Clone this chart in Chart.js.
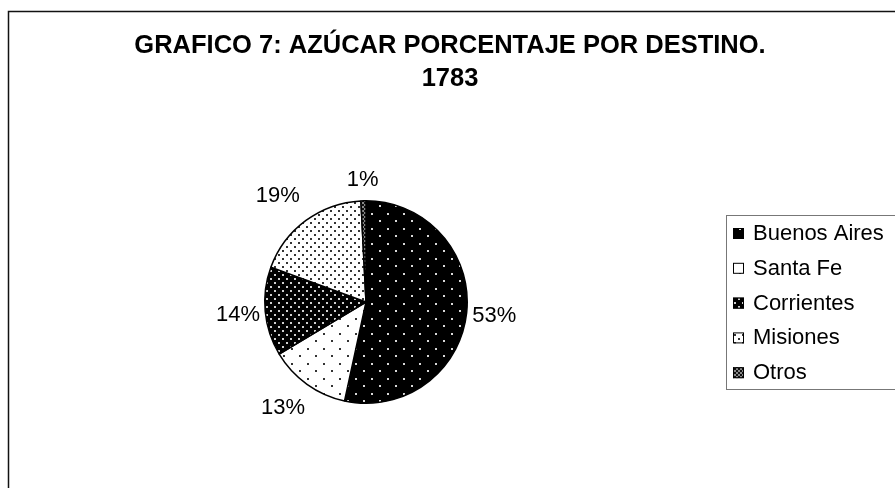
<!DOCTYPE html>
<html>
<head>
<meta charset="utf-8">
<script src="https://cdn.jsdelivr.net/npm/chart.js@4/dist/chart.umd.min.js"></script>
<style>
  html, body { margin: 0; padding: 0; background: #fff; }
  #wrap { width: 895px; height: 488px; }
</style>
</head>
<body>
<div id="wrap"><canvas id="pie" width="895" height="488"></canvas></div>
<script>
var titleLines = ['GRAFICO 7: AZÚCAR PORCENTAJE POR DESTINO.', '1783'];
var categories = ['Buenos Aires', 'Santa Fe', 'Corrientes', 'Misiones', 'Otros'];
var shares = [53.4, 13.0, 14.2, 18.6, 0.8];

// small tile patterns like the old excel fills
function makePattern(w, h, bg, fg, dots, size) {
	var c = document.createElement('canvas');
	c.width = w; c.height = h;
	var g = c.getContext('2d');
	g.fillStyle = bg;
	g.fillRect(0, 0, w, h);
	g.fillStyle = fg;
	dots.forEach(function(d){ g.fillRect(d[0], d[1], size, size); });
	return document.createElement('canvas').getContext('2d').createPattern(c, 'repeat');
}

var fills = [
	makePattern(16, 15, '#000', '#d8d8d8', [[3, 3], [11, 10]], 2),
	makePattern(16, 15, '#fff', '#333', [[3, 3], [11, 10]], 2),
	makePattern(8, 8, '#000', '#cfcfcf', [[2, 2], [6, 6]], 2),
	makePattern(8, 8, '#fff', '#333', [[2, 2], [6, 6]], 2),
	makePattern(4, 4, '#111', '#888', [[0, 0], [2, 2]], 2)
];

var frame = {
	id: 'frame',
	beforeDraw: function(chart) {
		var ctx = chart.ctx;
		ctx.save();
		ctx.fillStyle = '#fff';
		ctx.fillRect(0, 0, chart.width, chart.height);
		ctx.strokeStyle = '#111';
		ctx.lineWidth = 1.5;
		ctx.strokeRect(8.5, 11.5, 1000, 600);
		ctx.restore();
	},
	afterDraw: function(chart) {
		var ctx = chart.ctx;
		ctx.save();
		// title
		ctx.fillStyle = '#000';
		ctx.textAlign = 'center';
		ctx.textBaseline = 'middle';
		ctx.font = 'bold 25.5px "Liberation Sans", Arial, sans-serif';
		ctx.fillText(titleLines[0], 450, 46);
		ctx.fillText(titleLines[1], 450, 79);

		// percentage labels outside the slices
		var meta = chart.getDatasetMeta(0);
		ctx.font = '22px "Liberation Sans", Arial, sans-serif';
		meta.data.forEach(function(arc, i){
			var mid = (arc.startAngle + arc.endAngle) / 2;
			var dx = Math.cos(mid), dy = Math.sin(mid);
			var txt = Math.round(shares[i]) + '%';
			var w = ctx.measureText(txt).width, h = 16;
			var d = arc.outerRadius + 2 + 36 * Math.abs(dx * dy) + 12 * Math.pow(Math.max(0, -dy), 3);
			ctx.fillText(txt, arc.x + d * dx + w / 2 * dx, arc.y + d * dy + h / 2 * dy + 2);
		});

		// legend box
		ctx.strokeStyle = '#777';
		ctx.lineWidth = 1;
		ctx.strokeRect(726.5, 215.5, 400, 174);
		ctx.textAlign = 'left';
		categories.forEach(function(name, i){
			var y = 233 + i * 34.8;
			ctx.fillStyle = fills[i];
			ctx.fillRect(733, y - 5, 11, 11);
			ctx.strokeStyle = '#000';
			ctx.lineWidth = 1;
			ctx.strokeRect(733.5, y - 4.5, 10, 10);
			ctx.fillStyle = '#000';
			ctx.fillText(name, 753, y + 1);
		});
		ctx.restore();
	}
};

var ctx = document.getElementById('pie').getContext('2d');
window.myPie = new Chart(ctx, {
	type: 'pie',
	data: {
		labels: categories,
		datasets: [{
			data: shares,
			backgroundColor: fills,
			borderColor: '#000',
			borderWidth: 1.5
		}]
	},
	options: {
		responsive: false,
		animation: false,
		layout: {
			padding: { left: 264, right: 427, top: 199, bottom: 83 }
		},
		plugins: {
			legend: { display: false },
			title: { display: false },
			tooltip: { enabled: false }
		}
	},
	plugins: [frame]
});
</script>
</body>
</html>
